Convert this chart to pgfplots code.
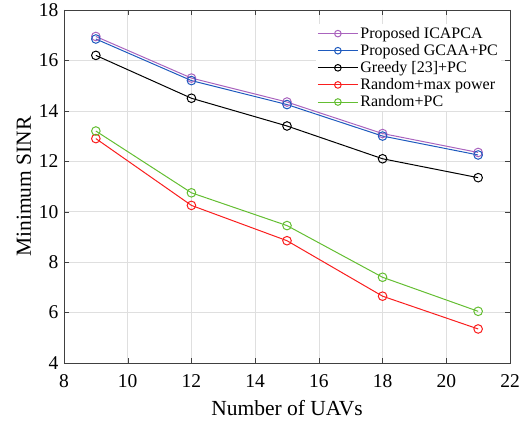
\documentclass[border=0pt]{standalone}
\usepackage{pgfplots}
\pgfplotsset{compat=1.18}
\usepackage{fontspec}
\setmainfont{Liberation Serif}
\definecolor{cpurple}{RGB}{170,100,190}
\definecolor{cblue}{RGB}{30,90,190}
\definecolor{cred}{RGB}{250,30,30}
\definecolor{cgreen}{RGB}{100,190,50}
\begin{document}
\begin{tikzpicture}
\begin{axis}[
  scale only axis,
  width=446pt, height=353pt,
  xmin=8, xmax=22, ymin=4, ymax=18,
  xtick={8,10,...,22}, ytick={4,6,...,18},
  grid=major,
  grid style={gray!25, line width=0.6pt},
  axis line style={black!75, line width=0.7pt},
  tick style={black!75},
  tick align=inside,
  major tick length=5pt,
  xtick pos=both, ytick pos=both,
  /pgf/number format/assume math mode=true,
  tick label style={font=\fontsize{19.5}{21}\selectfont},
  xticklabel style={yshift=-8pt},
  yticklabel style={xshift=-2pt},
  label style={font=\fontsize{21.5}{23}\selectfont},
  xlabel={Number of UAVs},
  xlabel style={yshift=-6pt},
  ylabel={Minimum SINR},
  ylabel style={yshift=1pt},
  legend style={at={(0.98,0.96)}, anchor=north east, draw=none, fill=white,
    font=\fontsize{16}{17}\selectfont, row sep=0.5pt, inner sep=1pt},
  legend cell align=left,
  legend image code/.code={
    \draw[mark repeat=2,mark phase=2,mark size=3.3pt] plot coordinates {(0pt,0pt) (20pt,0pt) (40pt,0pt)};},
  every axis plot/.append style={line width=1pt, mark=o, mark size=4.3pt},
]
\addplot[color=cpurple] coordinates {(9,16.95) (12,15.3) (15,14.35) (18,13.1) (21,12.35)};
\addlegendentry{Proposed ICAPCA}
\addplot[color=cblue] coordinates {(9,16.85) (12,15.2) (15,14.25) (18,13.0) (21,12.25)};
\addlegendentry{Proposed GCAA+PC}
\addplot[color=black] coordinates {(9,16.2) (12,14.5) (15,13.4) (18,12.1) (21,11.35)};
\addlegendentry{Greedy [23]+PC}
\addplot[color=cred] coordinates {(9,12.9) (12,10.25) (15,8.85) (18,6.65) (21,5.35)};
\addlegendentry{Random+max power}
\addplot[color=cgreen] coordinates {(9,13.2) (12,10.75) (15,9.45) (18,7.4) (21,6.05)};
\addlegendentry{Random+PC}
\end{axis}
\pgfresetboundingbox
\path[use as bounding box] ([shift={(-64pt,-63pt)}]current axis.south west) rectangle ([shift={(18pt,10pt)}]current axis.north east);
\end{tikzpicture}
\end{document}
